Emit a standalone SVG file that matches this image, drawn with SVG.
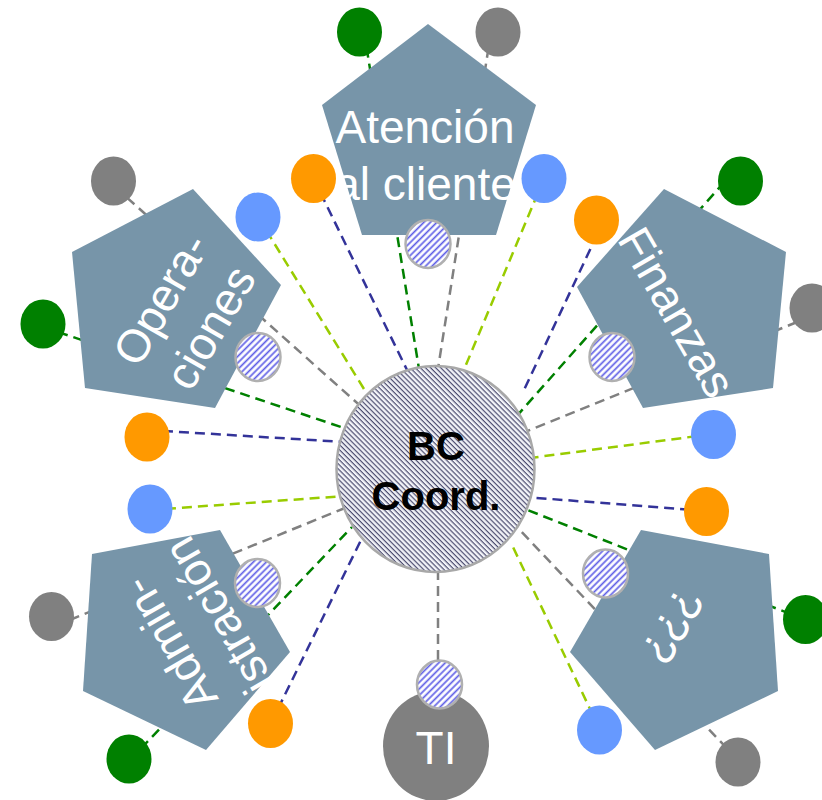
<svg xmlns="http://www.w3.org/2000/svg" width="822" height="800" viewBox="0 0 822 800">
<defs>
<pattern id="hatchMain" patternUnits="userSpaceOnUse" width="3.6" height="3.6" patternTransform="rotate(-45)">
<rect width="3.6" height="3.6" fill="#f2f3f8"/>
<line x1="1.2" y1="0" x2="1.2" y2="3.6" stroke="#46466a" stroke-width="1.15"/>
</pattern>
<pattern id="hatchSmall" patternUnits="userSpaceOnUse" width="4.6" height="4.6" patternTransform="rotate(45)">
<rect width="4.6" height="4.6" fill="#ffffff"/>
<line x1="1.5" y1="0" x2="1.5" y2="4.6" stroke="#5e5ee6" stroke-width="1.7"/>
</pattern>
</defs>
<style>
.pent{fill:#7795a9}
.lbl{font-family:"Liberation Sans",Arial,sans-serif;font-size:46px;fill:#ffffff;text-anchor:middle}
.c{fill:none;stroke-width:2.5;stroke-dasharray:10 6}
.navy{stroke:#333399}
.lime{stroke:#99cc00}
.grn{stroke:#008000}
.gry{stroke:#808080}
.dg{fill:#008000}
.dy{fill:#808080}
.do{fill:#ff9900}
.db{fill:#6699ff}
.hs{fill:url(#hatchSmall);stroke:#b0b0b0;stroke-width:2.5}
</style>
<g id="connectors">
<line class="c navy" x1="313.5" y1="178.5" x2="408" y2="372"/>
<line class="c grn" x1="364" y1="32" x2="420" y2="375"/>
<line class="c gry" x1="491" y1="32" x2="437" y2="375"/>
<line class="c lime" x1="544" y1="178.5" x2="463" y2="372"/>
<line class="c lime" x1="258" y1="217" x2="372" y2="402"/>
<line class="c gry" x1="115" y1="187" x2="365" y2="410"/>
<line class="c grn" x1="43" y1="327" x2="350" y2="430"/>
<line class="c navy" x1="147" y1="430" x2="345" y2="442"/>
<line class="c navy" x1="604" y1="220" x2="524" y2="390"/>
<line class="c grn" x1="735" y1="170" x2="515" y2="418"/>
<line class="c gry" x1="812" y1="316" x2="525" y2="432"/>
<line class="c lime" x1="713" y1="434" x2="530" y2="458"/>
<line class="c navy" x1="706" y1="511" x2="525" y2="497"/>
<line class="c grn" x1="805.5" y1="620" x2="520" y2="507"/>
<line class="c gry" x1="738" y1="760" x2="515" y2="525"/>
<line class="c lime" x1="600" y1="730" x2="512" y2="545"/>
<line class="c lime" x1="150" y1="510" x2="345" y2="496"/>
<line class="c gry" x1="55" y1="626" x2="345" y2="508"/>
<line class="c grn" x1="130" y1="760" x2="352" y2="527"/>
<line class="c navy" x1="271" y1="723" x2="362" y2="538"/>
<line class="c gry" x1="438" y1="570" x2="438" y2="662"/>
</g>
<g id="atencion">
<polygon class="pent" points="428,24 536,105 496,235 362,235 322,105"/>
<text class="lbl" x="425" y="143">Atención</text>
<text class="lbl" x="425" y="200">al cliente</text>
</g>
<g id="operaciones">
<polygon class="pent" points="193,189 281,285 215,408 85,388 72,252"/>
<g transform="rotate(-60 185 313)">
<text class="lbl" x="185" y="301">Opera-</text>
<text class="lbl" x="185" y="358">ciones</text>
</g>
</g>
<g id="finanzas">
<polygon class="pent" points="664,189 786,252 773,388 643,408 577,287"/>
<text class="lbl" x="677" y="328" font-size="48" transform="rotate(60 677 312)">Finanzas</text>
</g>
<g id="desconocido">
<polygon class="pent" points="641,530 769,554 778,691 655,750 570,652"/>
<text class="lbl" x="673" y="642" transform="rotate(120 673 626)">???</text>
</g>
<g id="administracion">
<polygon class="pent" points="220,530 290,652 206,750 83,691 92,554"/>
<g transform="rotate(240 193 630)">
<text class="lbl" x="193" y="618">Admin-</text>
<text class="lbl" x="193" y="675">istración</text>
</g>
</g>
<g id="dots-atencion">
<ellipse class="dg" cx="359.5" cy="32" rx="22.5" ry="24.5"/>
<ellipse class="dy" cx="498" cy="32" rx="22.5" ry="24.5"/>
<ellipse class="do" cx="313.5" cy="178.5" rx="22.5" ry="24.5"/>
<ellipse class="db" cx="544" cy="178.5" rx="22.5" ry="24.5"/>
<ellipse class="hs" cx="428" cy="244" rx="22.5" ry="24"/>
</g>
<g id="dots-operaciones">
<ellipse class="dy" cx="113.5" cy="181" rx="22.5" ry="24.5"/>
<ellipse class="dg" cx="43" cy="324" rx="22.5" ry="24.5"/>
<ellipse class="db" cx="258" cy="217" rx="22.5" ry="24.5"/>
<ellipse class="do" cx="147" cy="437" rx="22.5" ry="24.5"/>
<ellipse class="hs" cx="258" cy="357" rx="22.5" ry="24"/>
</g>
<g id="dots-finanzas">
<ellipse class="do" cx="596.5" cy="220" rx="22.5" ry="24.5"/>
<ellipse class="dg" cx="740.5" cy="181" rx="22.5" ry="24.5"/>
<ellipse class="dy" cx="812" cy="308" rx="22.5" ry="24.5"/>
<ellipse class="db" cx="713.5" cy="434.5" rx="22.5" ry="24.5"/>
<ellipse class="hs" cx="612" cy="357" rx="22.5" ry="24"/>
</g>
<g id="dots-desconocido">
<ellipse class="do" cx="706.5" cy="511.5" rx="22.5" ry="24.5"/>
<ellipse class="dg" cx="805.5" cy="619.5" rx="22.5" ry="24.5"/>
<ellipse class="dy" cx="738" cy="762" rx="22.5" ry="24.5"/>
<ellipse class="db" cx="599.5" cy="730" rx="22.5" ry="24.5"/>
<ellipse class="hs" cx="605.5" cy="573.5" rx="22.5" ry="24"/>
</g>
<g id="dots-administracion">
<ellipse class="db" cx="150" cy="509" rx="22.5" ry="24.5"/>
<ellipse class="dy" cx="51.5" cy="616.5" rx="22.5" ry="24.5"/>
<ellipse class="dg" cx="129" cy="759" rx="22.5" ry="24.5"/>
<ellipse class="do" cx="270.5" cy="723.5" rx="22.5" ry="24.5"/>
<ellipse class="hs" cx="257.5" cy="583" rx="22.5" ry="24"/>
</g>
<g id="bc-coord">
<ellipse cx="435.5" cy="469" rx="99" ry="103" fill="url(#hatchMain)" stroke="#a8a8a8" stroke-width="2.5"/>
<text x="436" y="460" font-family="Liberation Sans, Arial, sans-serif" font-size="40" font-weight="bold" fill="#000000" text-anchor="middle">BC</text>
<text x="436" y="510" font-family="Liberation Sans, Arial, sans-serif" font-size="40" font-weight="bold" fill="#000000" text-anchor="middle">Coord.</text>
</g>
<g id="ti">
<ellipse cx="436" cy="746" rx="53" ry="55" fill="#808080"/>
<text class="lbl" x="436" y="764">TI</text>
<ellipse class="hs" cx="439.5" cy="684.5" rx="22.5" ry="24"/>
</g>
</svg>
